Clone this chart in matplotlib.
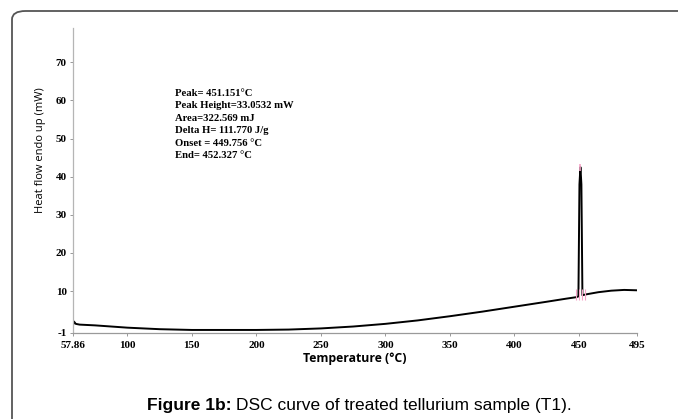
import matplotlib
matplotlib.use("Agg")
import matplotlib.pyplot as plt
from matplotlib.patches import FancyBboxPatch

# ---- data ----
temperature = [57.86, 58.6, 60, 63, 75, 100, 125, 150, 175, 200, 225, 250, 275,
               300, 325, 350, 375, 400, 425, 440, 448, 449.6, 450.4, 451.15,
               451.9, 452.7, 455, 465, 475, 485, 495]
heat_flow = [1.0, 2.0, 1.4, 1.2, 1.0, 0.4, 0.0, -0.2, -0.2, -0.2, -0.1, 0.2, 0.7,
             1.4, 2.3, 3.4, 4.6, 5.9, 7.2, 8.0, 8.4, 8.6, 38.0, 42.5,
             38.0, 8.9, 9.1, 9.7, 10.1, 10.3, 10.2]
marker_temps = [447.5, 449.8, 452.6, 455.0]
x_ticks = [57.86, 100, 150, 200, 250, 300, 350, 400, 450, 495]
x_tick_labels = ["57.86", "100", "150", "200", "250", "300", "350", "400", "450", "495"]
y_ticks = [-1, 10, 20, 30, 40, 50, 60, 70]
y_tick_labels = ["-1", "10", "20", "30", "40", "50", "60", "70"]
annotation_lines = ["Peak= 451.151\u00b0C", "Peak Height=33.0532 mW", "Area=322.569 mJ",
                    "Delta H= 111.770 J/g", "Onset = 449.756 \u00b0C", "End= 452.327 \u00b0C"]

W, H = 678, 419
fig = plt.figure(figsize=(W / 100, H / 100), dpi=100)

# rounded frame
frame = FancyBboxPatch((12 / W, -40 / H), (W + 40) / W, (H - 11 + 40) / H,
                       boxstyle="round,pad=0,rounding_size=0.02",
                       transform=fig.transFigure, fill=False,
                       edgecolor="#555555", linewidth=1.3, clip_on=False)
fig.patches.append(frame)

ax = fig.add_axes([73 / W, 1 - 333 / H, (637 - 73) / W, (333 - 28) / H])
ax.plot(temperature, heat_flow, color="black", linewidth=1.4)
ax.vlines(marker_temps, 7.6, 10.6, color="#f5a3c7", linewidth=0.8)
ax.vlines([451.15], 41.5, 43.3, color="#f5a3c7", linewidth=1.2)

ax.set_xlim(57.86, 495)
ax.set_ylim(-1, 79)
for s in ["top", "right"]:
    ax.spines[s].set_visible(False)
ax.spines["left"].set_color("#b5b5b5")
ax.spines["bottom"].set_color("#9a9a9a")
ax.spines["left"].set_linewidth(0.9)
ax.spines["bottom"].set_linewidth(0.9)
ax.spines["bottom"].set_linestyle((0, (4, 1)))

serif = ["Liberation Serif", "DejaVu Serif"]
ax.set_xticks(x_ticks)
ax.set_xticklabels(x_tick_labels, fontfamily=serif, fontweight="bold", fontsize=8)
ax.set_yticks(y_ticks)
ax.set_yticklabels(y_tick_labels, fontfamily=serif, fontweight="bold", fontsize=8)
ax.tick_params(axis="both", length=2.5, width=0.6, color="#888888", pad=3)
ax.tick_params(axis="y", pad=2)

ax.set_xlabel("Temperature (\u00b0C)", fontfamily="Open Sans", fontweight="bold",
              fontsize=8.8, labelpad=2)
fig.text(41 / W, 1 - 150 / H, "Heat flow endo up (mW)", fontfamily="Open Sans",
         fontsize=8, rotation=90, ha="center", va="center")

y0 = 93
for i, line in enumerate(annotation_lines):
    fig.text(175 / W, 1 - (y0 + i * 12.5) / H, line, fontfamily=serif,
             fontweight="bold", fontsize=7.7,
             ha="left", va="center")

# caption
cap_y = 1 - 405 / H
t1 = fig.text(147 / W, cap_y, "Figure 1b:", fontfamily="Liberation Sans",
              fontweight="bold", fontsize=12.5, ha="left", va="center")
fig.canvas.draw()
bb = t1.get_window_extent()
fig.text(bb.x1 / W + 4 / W, cap_y, "DSC curve of treated tellurium sample (T1).",
         fontfamily="Liberation Sans", fontsize=12.5, ha="left", va="center")

fig.savefig("out.png", dpi=100)
